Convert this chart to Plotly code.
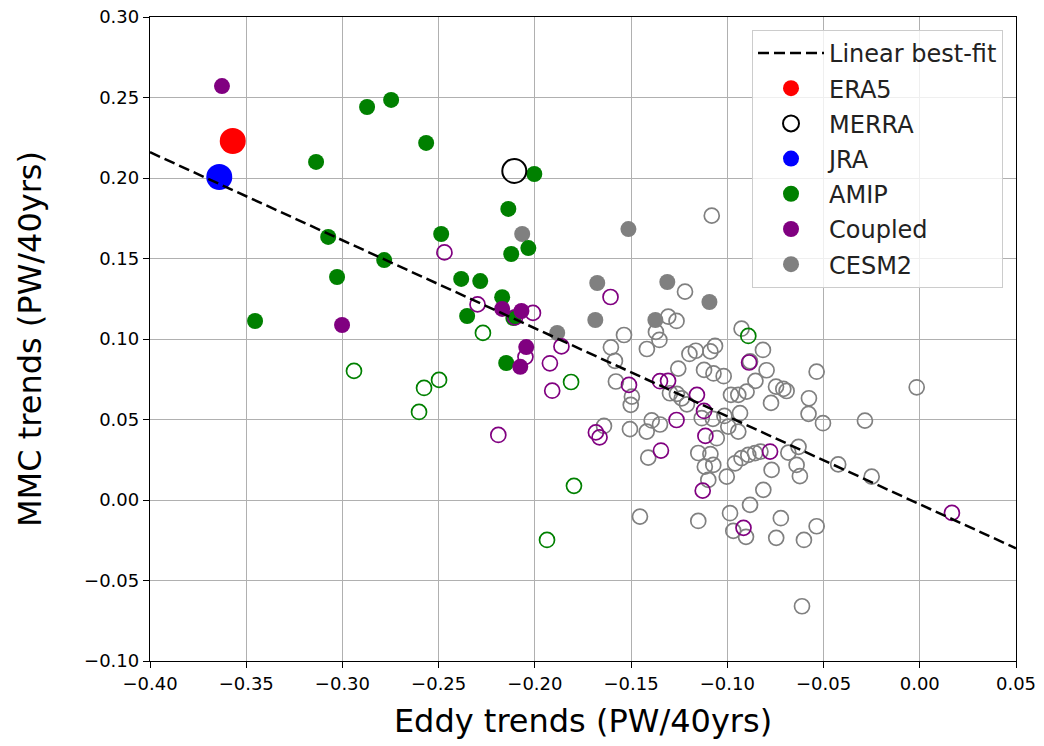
import plotly.graph_objects as go

# ---------------- data (PW/40yrs) ----------------
era5_x, era5_y = [-0.357], [0.223]
merra_x, merra_y = [-0.2107], [0.2044]
jra_x, jra_y = [-0.364], [0.2006]

amip_x = [-0.2872, -0.2747, -0.2565, -0.3137, -0.2003, -0.2138, -0.2487, -0.3074, -0.2123, -0.2034,
          -0.2783, -0.3028, -0.2383, -0.2284, -0.2170, -0.2352, -0.3454, -0.2149, -0.2112]
amip_y = [0.2441, 0.2485, 0.2218, 0.2100, 0.2025, 0.1808, 0.1652, 0.1634, 0.1528, 0.1565,
          0.1490, 0.1385, 0.1373, 0.1360, 0.1260, 0.1143, 0.1112, 0.0851, 0.1130]

amip_open_x = [-0.2940, -0.2576, -0.2498, -0.2602, -0.2270, -0.1812, -0.1797, -0.1937, -0.0891]
amip_open_y = [0.0802, 0.0696, 0.0746, 0.0547, 0.1038, 0.0733, 0.0088, -0.0248, 0.1019]

coupled_x = [-0.3626, -0.3002, -0.2170, -0.2070, -0.2045, -0.2076]
coupled_y = [0.2571, 0.1087, 0.1187, 0.1174, 0.0950, 0.0827]

coupled_open_x = [-0.2470, -0.2298, -0.2103, -0.2010, -0.1862, -0.2049, -0.1922, -0.1910, -0.1607,
                  -0.1511, -0.1350, -0.1308, -0.2190, -0.1683, -0.1664, -0.1158, -0.1121, -0.1264,
                  -0.1114, -0.1345, -0.1128, -0.0916, -0.0778, -0.0887, 0.0167]
coupled_open_y = [0.1538, 0.1215, 0.1134, 0.1162, 0.0954, 0.0889, 0.0849, 0.0679, 0.1261,
                  0.0715, 0.0738, 0.0740, 0.0404, 0.0420, 0.0389, 0.0653, 0.0553, 0.0497,
                  0.0398, 0.0307, 0.0058, -0.0173, 0.0301, 0.0854, -0.0080]

cesm_x = [-0.2066, -0.1514, -0.1676, -0.1312, -0.1093, -0.1686, -0.1374, -0.1884]
cesm_y = [0.1652, 0.1683, 0.1348, 0.1354, 0.1230, 0.1118, 0.1118, 0.1038]

cesm_open_x = [-0.1081, -0.1220, -0.1307, -0.1264, -0.1537, -0.1371, -0.1353, -0.1418, -0.1605, -0.1584,
               -0.1579, -0.1496, -0.1502, -0.1255, -0.1197, -0.1164, -0.1088, -0.1064, -0.1121, -0.1072,
               -0.1019, -0.0926, -0.0815, -0.0882, -0.0796, -0.0536, -0.0854, -0.0747, -0.0709, -0.0692,
               -0.0900, -0.0943, -0.0981, -0.0773, -0.0576, -0.0578, -0.0503, -0.0285, -0.0934, -0.0943,
               -0.1015, -0.0995, -0.0630, -0.0856, -0.0891, -0.0828, -0.0683, -0.0960, -0.1003, -0.0770,
               -0.0640, -0.0623, -0.0424, -0.0250, -0.0813, -0.0882, -0.0986, -0.0969, -0.0903, -0.0722,
               -0.0746, -0.0602, -0.0536, -0.0612, -0.0016, -0.1298, -0.1262, -0.1237, -0.1210, -0.1133,
               -0.1075, -0.1393, -0.1350, -0.1419, -0.1506, -0.1641, -0.1411, -0.1151, -0.1088, -0.1117,
               -0.1073, -0.1099, -0.1454, -0.1151, -0.0926, -0.1055]
cesm_open_y = [0.1766, 0.1294, 0.1139, 0.1112, 0.1025, 0.1044, 0.0994, 0.0938, 0.0948, 0.0864,
               0.0736, 0.0642, 0.0591, 0.0816, 0.0907, 0.0927, 0.0923, 0.0957, 0.0808, 0.0786,
               0.0769, 0.1064, 0.0932, 0.0861, 0.0806, 0.0797, 0.0740, 0.0704, 0.0690, 0.0677,
               0.0673, 0.0653, 0.0653, 0.0603, 0.0632, 0.0535, 0.0477, 0.0493, 0.0539, 0.0425,
               0.0522, 0.0456, 0.0330, 0.0291, 0.0280, 0.0301, 0.0294, 0.0228, 0.0145, 0.0187,
               0.0218, 0.0148, 0.0221, 0.0145, 0.0063, -0.0030, -0.0082, -0.0192, -0.0229, -0.0113,
               -0.0235, -0.0248, -0.0163, -0.0660, 0.0700, 0.0663, 0.0659, 0.0631, 0.0594, 0.0508,
               0.0504, 0.0494, 0.0469, 0.0425, 0.0440, 0.0460, 0.0263, 0.0292, 0.0285, 0.0207,
               0.0218, 0.0125, -0.0103, -0.0130, 0.0260, 0.0384]

fit_x = [-0.40, 0.05]
fit_y = [0.216, -0.030]

x_ticks = [-0.40, -0.35, -0.30, -0.25, -0.20, -0.15, -0.10, -0.05, 0.00, 0.05]
y_ticks = [-0.10, -0.05, 0.00, 0.05, 0.10, 0.15, 0.20, 0.25, 0.30]


def fmt(v):
    s = f"{v:.2f}"
    return s.replace("-", "\u2212")


GREEN = "#008000"
PURPLE = "#800080"
GRAY = "#808080"

fig = go.Figure()

SMALL = 16
OPEN = 15


def open_trace(x, y, color, name):
    return go.Scatter(x=x, y=y, mode="markers", name=name, showlegend=False,
                      marker=dict(symbol="circle-open", size=OPEN, color=color,
                                  line=dict(width=1.7, color=color)))


def filled_trace(x, y, color, name, rank):
    return go.Scatter(x=x, y=y, mode="markers", name=name, legendrank=rank, legendgroup=name,
                      marker=dict(symbol="circle", size=SMALL, color=color,
                                  line=dict(width=0)))


fig.add_trace(open_trace(cesm_open_x, cesm_open_y, GRAY, "CESM2 open"))
fig.add_trace(filled_trace(cesm_x, cesm_y, GRAY, "CESM2", 7))
fig.add_trace(open_trace(amip_open_x, amip_open_y, GREEN, "AMIP open"))
fig.add_trace(filled_trace(amip_x, amip_y, GREEN, "AMIP", 5))
fig.add_trace(open_trace(coupled_open_x, coupled_open_y, PURPLE, "Coupled open"))
fig.add_trace(filled_trace(coupled_x, coupled_y, PURPLE, "Coupled", 6))

fig.add_trace(go.Scatter(x=era5_x, y=era5_y, mode="markers", name="ERA5", legendrank=2, legendgroup="ERA5",
                         marker=dict(symbol="circle", size=26, color="#ff0000", line=dict(width=0))))
fig.add_trace(go.Scatter(x=merra_x, y=merra_y, mode="markers", name="MERRA", legendrank=3, legendgroup="MERRA",
                         marker=dict(symbol="circle-open", size=24, color="black",
                                     line=dict(width=2, color="black"))))
fig.add_trace(go.Scatter(x=jra_x, y=jra_y, mode="markers", name="JRA", legendrank=4, legendgroup="JRA",
                         marker=dict(symbol="circle", size=26, color="#0000ff", line=dict(width=0))))

fig.add_trace(go.Scatter(x=fit_x, y=fit_y, mode="lines", name="Linear best-fit", legendrank=1,
                         legendgroup="fit",
                         line=dict(color="black", width=2.5, dash="11px,5px")))

axis_common = dict(
    showline=True, linecolor="black", linewidth=1.3, mirror=True,
    ticks="outside", ticklen=6, tickwidth=1.3, tickcolor="black",
    showgrid=True, gridcolor="#b0b0b0", gridwidth=1, zeroline=False,
    automargin=False,
    tickfont=dict(family="DejaVu Sans", size=18, color="black"),
)

fig.update_xaxes(range=[-0.40, 0.05], tickvals=x_ticks, ticktext=[fmt(v) for v in x_ticks],
                 title=dict(text="Eddy trends (PW/40yrs)", standoff=16,
                            font=dict(family="DejaVu Sans", size=32, color="black")),
                 **axis_common)
fig.update_yaxes(range=[-0.10, 0.30], tickvals=y_ticks, ticktext=[fmt(v) for v in y_ticks],
                 title=dict(text="MMC trends (PW/40yrs)", standoff=32,
                            font=dict(family="DejaVu Sans", size=32, color="black")),
                 **axis_common)

fig.update_layout(
    width=1044, height=746,
    margin=dict(l=150, r=28, t=17, b=85),
    paper_bgcolor="white", plot_bgcolor="white",
    font=dict(family="DejaVu Sans", color="black"),
    showlegend=True,
    legend=dict(x=0.985, y=0.98, xanchor="right", yanchor="top",
                bgcolor="rgba(255,255,255,0.8)", bordercolor="#cccccc", borderwidth=1,
                font=dict(family="DejaVu Sans", size=24, color="#222222"),
                itemsizing="trace", traceorder="grouped", tracegroupgap=1,
                itemwidth=66),
)

fig.write_html("out.html")
